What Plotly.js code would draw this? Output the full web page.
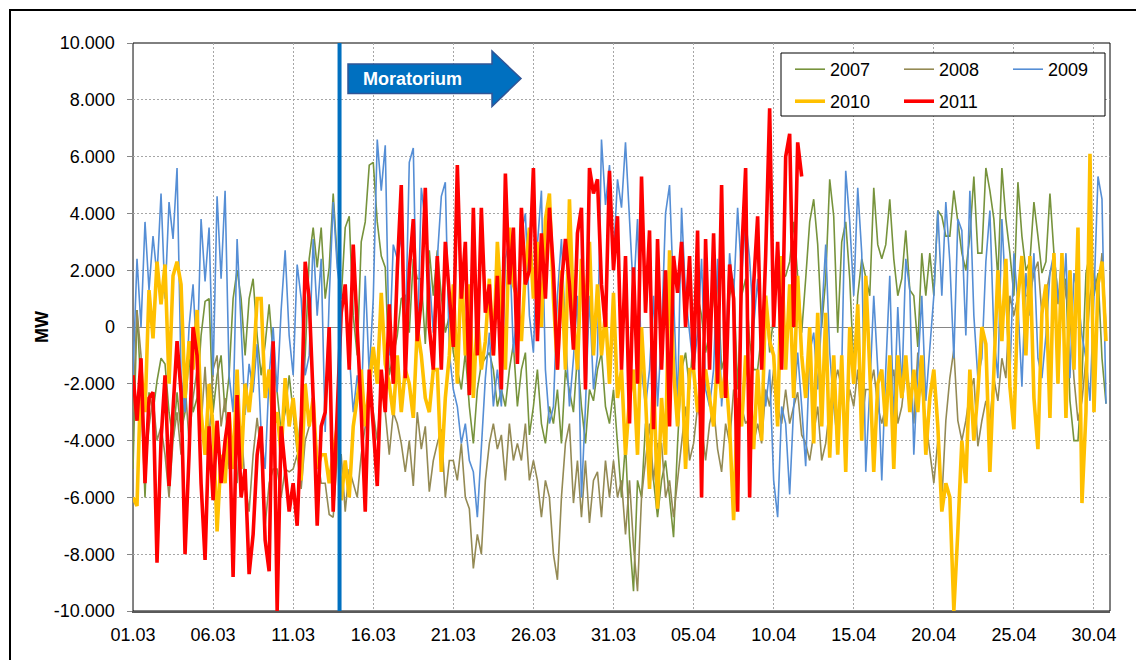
<!DOCTYPE html>
<html><head><meta charset="utf-8">
<script src="https://cdn.plot.ly/plotly-3.0.1.min.js"></script>
<style>
html,body{margin:0;padding:0;background:#fff;overflow:hidden;width:1136px;height:660px;}
#chart{position:absolute;left:0;top:0;width:1136px;height:660px;}
#frame{position:absolute;left:9px;top:9px;width:1200px;height:800px;border:2px solid #000;pointer-events:none;}
</style></head><body>
<div id="chart"></div><div id="frame"></div>
<script>
const seriesNames = ['2007','2008','2009','2010','2011'];
const startDate = '2011-03-01';
const endDate = '2011-05-01';
const stepHours = 6;
const moratoriumTime = '2011-03-13 21:30';
const moratoriumLabel = 'Moratorium';
const yAxisLabel = 'MW';
const yTickValues = [-10000,-8000,-6000,-4000,-2000,0,2000,4000,6000,8000,10000];
const yTickLabels = ['-10.000','-8.000','-6.000','-4.000','-2.000','0','2.000','4.000','6.000','8.000','10.000'];

const mw2007 = [
-5000,600,-2300,-6000, -2300,-3000,-1900,-1100, -1300,-3000,-4000,-2300, -3700,-3000,-1000,-3000, -2500,-300,900,1000,
-3000,-1700,-1000,-3000, -1700,1000,2000,1000, -1000,1000,1700,-300, -1700,-600,800,-1000, -2300,-3700,-3000,-1700,
-3000,-4400,-3000,-1000, 2400,3500,2100,3500, 1000,2100,4700,2400, 1000,3500,3900,400, -1000,3000,3700,5700,
5800,3700,2500,2100, -1700,-1000,-300,1000, 1100,-200,2400,1700, 1700,-600,2700,1100, 2700,1100,-200,400,
-900,-1500,-2200,-900, -2800,-4100,-2200,-1300, -1100,-900,-1500,-2800, -2200,-2800,-1500,-600, -2800,-1500,-900,-3800,
-2800,-1500,-3400,-4100, -2800,-3400,-2200,-4100, -1500,-2200,-3000,-1000, -2800,-4100,-2200,-2600, -1500,-900,-2800,-3400,
-2200,-4100,-6000,-4100, -7400,-9300,-5400,-6000, -3400,-4100,-5400,-6700, -5400,-4700,-6000,-7400, -4100,-1500,-900,-2200,
-200,1100,400,-900, -200,1100,1700,-1500, -900,1100,1700,-2200, 1100,1700,-500,-1500, -1500,-200,1100,-900,
400,2900,1700,1800, 2300,3700,1800,-200, 1700,3700,4500,2900, 0,1700,5200,3900, -200,3000,3700,1700,
-1500,1100,2400,1700, 1100,4900,2900,2400, 2900,4500,2400,1100, 1700,3400,1300,1100, -700,2600,1100,2600,
1100,4100,3900,3200, 3200,4800,3700,2600, 2000,3200,5300,2600, 2600,5600,4800,3800, 1700,5600,3800,2600,
1100,5100,3200,2000, 2300,4400,3200,1900, 2300,4700,2600,1100, 1100,1700,-2600,-4000, -4000,-1800,1900,2600,
1100,1900,-1100,-2700];

const mw2008 = [
-3000,600,-1000,-5000, -3500,-2500,-4000,-3500, -4500,-6000,-4000,-3000, -4500,-2000,-4000,-2500, -1500,-3500,-1400,-4000,
-1500,-1000,-3500,-2500, -5000,-4500,-5500,-3500, -5500,-6500,-4500,-3200, -4500,-7000,-5500,-5000, -5000,-6000,-5000,-5100,
-5000,-4500,-5700,-4000, -3500,-3000,-4500,-5500, -5500,-6600,-6700,-4500, -4500,-6500,-5000,-5500, -6000,-4500,-3500,-2500,
-3000,-4000,-2000,-3000, -4500,-3000,-3400,-4100, -5100,-4000,-5600,-3000, -4300,-3500,-5800,-4700, -4100,-3600,-6000,-4700,
-4700,-5400,-4100,-6000, -6400,-8500,-7300,-8000, -5400,-4100,-3400,-4300, -3800,-5400,-3400,-4700, -4100,-4700,-3400,-5400,
-4700,-5400,-6700,-5400, -6000,-8000,-8900,-6000, -4100,-3400,-6200,-4700, -6700,-4700,-6900,-5400, -5100,-6700,-4700,-6000,
-4700,-6000,-5400,-7300, -5400,-7700,-9300,-6000, -4700,-3400,-5400,-4100, -4100,-6000,-5400,-6700, -5400,-4100,-2800,-4700,
-4100,-2800,-3400,-4700, -3400,-2800,-4300,-5100, -3400,-4100,-2200,-3000, -2800,-3400,-3200,-4100, -3400,-4100,-2200,-2800,
-1500,-2800,-3400,-2200, -3400,-2800,-2300,-3800, -4100,-4700,-3800,-2800, -4700,-4100,-2800,-2200, -1500,-2200,-3400,-2200,
-2800,-1500,-3400,-2200, -2200,-1500,-2800,-3400, -2800,-2200,-1500,-3400, -2800,-1500,-2200,-3400, -900,-2200,-3300,-4500,
-5500,-4000,-6100,-3300, -1800,-800,-3300,-4000, -3300,-2300,-1800,-4200, -3300,-2600,-3300,-1800, -2600,-1100,-1800,1100,
400,1100,2300,1100, 1100,1900,2300,400, 1100,1900,2300,800, 2600,1100,400,-1800, -3300,-2600,-1100,1100,
1900,1100,2600,0];

const mw2009 = [
-1700,2400,0,3700, 1300,3200,1800,4700, 1000,4400,3100,5600, -1700,-3000,0,1500, -1300,3800,1600,3500,
-1700,4600,1700,4800, -1700,-3000,3100,0, -3100,-1300,-2300,-600, -3700,-5000,-1700,0, -2300,600,2700,-300,
-1700,2200,1000,-1700, -1000,3100,400,2400, -3700,1000,4400,2100, 1000,1200,-1000,-3000, -1700,-3000,1800,-1700,
1000,6600,4800,6400, -1000,2900,2400,3200, -500,5800,6300,-900, 4900,3700,1800,-200, 2400,4600,5100,-900,
-2200,-2800,-4100,-3400, -4700,-5100,-6700,-4100, -1800,-200,-2800,-1500, -2800,2400,3100,-900, 800,3300,4000,400,
-900,2900,4800,-1500, -3400,-2800,1100,3100, -200,-2800,-1100,1100, -6000,-2800,1100,-2200, -1000,6600,4300,5700,
2400,5200,4200,6500, 3700,1100,3800,-1500, -2800,-1500,1100,-2800, -200,4000,5000,1100, -2800,4200,1100,-200,
-1500,-200,2400,-2200, -2800,-1500,2400,-2800, -900,2600,1100,4200, 1800,3800,2400,0, 1700,-900,-2800,-1500,
-5400,-6700,-2800,-3400, -5900,-2800,-900,-2800, -4900,-900,-200,-2200, 400,2900,-900,-2800, -4100,-1500,5500,3700,
1100,4900,2600,-5100, -2200,1100,-1500,-5400, -1500,1800,-3400,700, -2200,2400,1300,-4500, -1500,1100,-2600,-600,
1100,4100,1100,4400, 2300,-1100,3800,3400, -300,4800,400,-1800, -1100,2300,4100,-300, -1800,3800,1100,-1800,
2600,800,-2100,1900, 400,2600,-1100,-1800, -300,1900,2600,1100, 400,2600,-1800,1900, 1100,-300,-1100,-2600,
1100,5300,4500,-2700];

const mw2010 = [
-6000,-6300,-1500,-3000, 1300,-400,2300,800, 2200,-2000,1800,2300, 1500,-2500,-500,-1500, 600,-3000,-4500,-2000,
-3500,-7200,-4500,-5500, -3000,-5000,-1500,-5000, -2000,-3000,-1500,1000, 1000,-2500,-1500,-3500, -3000,-4500,-1800,-3500,
-2500,-4000,-5400,-2000, -3500,-2500,-5000,-4500, -4500,-5500,-4500,-3500, -6100,-4700,-6000,-3500, -2500,-1500,-3500,-2000,
-700,-2000,1200,-1300, -2000,-3100,-1000,-3000, -1500,-2000,-3200,0, -1000,-2500,-3000,-1500, -1500,-5100,-2500,-1000,
1500,-2000,2200,-1000, 1500,-2500,500,-1500, -500,1700,-1000,3000, 500,-1500,3500,1500, 1000,-500,2000,3500,
1000,3000,0,3800, 4700,1000,-1500,2000, -1500,4500,500,-1500, 2400,500,3000,-1000, 1500,-1000,500,-2000,
1200,-2500,-1500,-4500, -2500,-1500,-4500,0, -2500,-5700,-1500,-6400, -2500,-4500,2700,-1500, -3500,-1000,-5000,-1500,
-1500,-3000,-2000,-1500, -2500,-3500,-1000,-2500, -1500,-3500,-6800,-2500, -3500,-1000,-2000,-4300, -1500,-4000,1100,-500,
-1000,-3500,2500,-1500, 1500,-2500,1800,-1000, -2500,0,-4100,500, -3500,500,-4600,-1000, -4500,-1000,-5100,0,
-2000,800,-4000,1800, -1500,-5100,-2000,-1500, -3500,-1000,-5000,-1000, -2500,-1000,-3000,-1500, -3000,-1000,-4500,-2500,
-1500,-3500,-6500,-5500, -6000,-10000,-7200,-4000, -5500,-1500,-4000,-2300, 0,-600,-5100,-1500, 2000,-500,2400,-2100,
-3600,1000,2500,-1000, 2500,-2500,-4300,500, 1500,-3200,2600,-2000, 2600,-3200,2000,-1500, 3500,-6200,-3000,6100,
-3000,1500,2300,-500];

const mw2011 = [
-1700,-3300,-1100,-5500, -2500,-2300,-8300,-4000, -1700,-5600,-2900,-500, -2300,-8000,-4500,0, -1000,-5500,-8200,-3500,
-6100,-3300,-5500,-4000, -3000,-8800,-2400,-6000, -5000,-8700,-7300,-4500, -3500,-7500,-8600,-500, -10000,-3500,-5000,-6500,
-5500,-7000,-3500,2300, 1000,-2500,-7000,-3500, -3000,0,-6500,-3000, 500,1500,-1500,2900, 0,-3000,-6500,-1500,
-3500,-5600,-1500,-3000, 800,-2000,2000,5000, -1800,2000,3800,-500, 1000,4900,0,-1500, 2500,-1500,3000,1000,
-700,5700,1000,3000, -2400,4200,-1000,4200, 500,1500,-1000,1800, -2200,5400,1500,3500, -1300,4200,1500,2000,
5600,-500,3300,1000, 4200,2000,-1500,1500, 3100,1500,-800,3300, 4200,-2200,5600,4700, 5200,1500,0,5500,
2000,3900,-1500,2500, -3400,2100,-2000,5300, 500,3400,-3600,3100, -1500,2000,-3500,2500, 1200,3000,0,2500,
-1500,3400,-6000,3100, -1500,3300,-2000,5000, -2500,2200,1000,-6500, 2500,5600,-6000,1500, 3900,-1500,2500,7700,
0,3000,-1500,6000, 6800,0,6500,5300];

const seriesValues = [mw2007, mw2008, mw2009, mw2010, mw2011];
const seriesColors = ['#77933C','#948A54','#558ED5','#FFC000','#FF0000'];
const seriesWidths = [1.6,1.6,1.6,3.6,3.6];
const seriesLegend = ['legend','legend','legend','legend2','legend2'];

function timeAxis(n){
  const t0 = new Date(startDate + 'T00:00:00Z').getTime();
  const out = [];
  for(let i=0;i<n;i++){
    const d = new Date(t0 + i*stepHours*3600000);
    out.push(d.toISOString().slice(0,16).replace('T',' '));
  }
  return out;
}

const L=133, T=43, W=977, H=568;
const px = v => (v-L)/W;
const py = v => (T+H-v)/H;

const traces = seriesNames.map((name,k)=>({
  type:'scatter', mode:'lines', name:name,
  x: timeAxis(seriesValues[k].length), y: seriesValues[k],
  line:{color:seriesColors[k], width:seriesWidths[k]},
  legend: seriesLegend[k], hoverinfo:'skip'
}));

const font = {family:'"Liberation Sans", Arial, sans-serif', size:18, color:'#000'};
const arrowPath = 'M'+px(348)+','+py(64)+' L'+px(492)+','+py(64)+' L'+px(492)+','+py(51)+
  ' L'+px(521)+','+py(78.5)+' L'+px(492)+','+py(106.5)+' L'+px(492)+','+py(93.5)+' L'+px(348)+','+py(93.5)+' Z';

const legendCommon = {orientation:'h', xanchor:'left', yanchor:'top', bgcolor:'rgba(0,0,0,0)',
  borderwidth:0, font:font, entrywidth:64, entrywidthmode:'pixels', itemwidth:30};

const layout = {
  width:1136, height:660,
  margin:{l:L, r:1136-L-W, t:T, b:660-T-H, autoexpand:false},
  paper_bgcolor:'#fff', plot_bgcolor:'#fff',
  font:font, showlegend:true,
  xaxis:{type:'date', range:[startDate, endDate], tick0:startDate, dtick:5*86400000, tickformat:'%d.%m',
    showgrid:true, gridcolor:'#A6A6A6', griddash:'2px,2px', gridwidth:1,
    showline:true, linecolor:'#595959', linewidth:2, ticks:'', ticklabelstandoff:6,
    tickfont:font, zeroline:false, automargin:false, fixedrange:true},
  yaxis:{range:[-10000,10000], tickmode:'array', tickvals:yTickValues, ticktext:yTickLabels,
    showgrid:true, gridcolor:'#A6A6A6', griddash:'2px,2px', gridwidth:1,
    zeroline:true, zerolinecolor:'#868686', zerolinewidth:1,
    showline:true, linecolor:'#868686', linewidth:1.5, ticks:'outside', ticklen:5, tickcolor:'#868686',
    ticklabelstandoff:8, tickfont:font, automargin:false, fixedrange:true},
  legend: Object.assign({x:px(790), y:py(51)}, legendCommon),
  legend2: Object.assign({x:px(790), y:py(83)}, legendCommon),
  shapes:[
    {type:'rect', xref:'paper', yref:'paper', x0:0, x1:1, y0:0, y1:1, line:{color:'#000', width:1}, layer:'below'},
    {type:'line', xref:'x', yref:'paper', x0:moratoriumTime, x1:moratoriumTime, y0:0, y1:1, line:{color:'#0070C0', width:4}, layer:'above'},
    {type:'path', xref:'paper', yref:'paper', path:arrowPath, fillcolor:'#0070C0', line:{color:'#2F5597', width:1.5}, layer:'above'},
    {type:'rect', xref:'paper', yref:'paper', x0:px(781), x1:px(1105), y0:py(116), y1:py(53), fillcolor:'#fff', line:{color:'#000', width:1}, layer:'above'}
  ],
  annotations:[
    {text:'<b>'+moratoriumLabel+'</b>', xref:'paper', yref:'paper', x:px(361), y:py(78.5), xanchor:'left', yanchor:'middle', showarrow:false,
      font:{family:font.family, size:18, color:'#fff'}},
    {text:'<b>'+yAxisLabel+'</b>', xref:'paper', yref:'paper', x:px(42), y:py(327), xanchor:'center', yanchor:'middle', textangle:-90, showarrow:false,
      font:{family:font.family, size:18, color:'#000'}}
  ]
};
Plotly.newPlot('chart', traces, layout, {staticPlot:true, displayModeBar:false});
</script></body></html>
